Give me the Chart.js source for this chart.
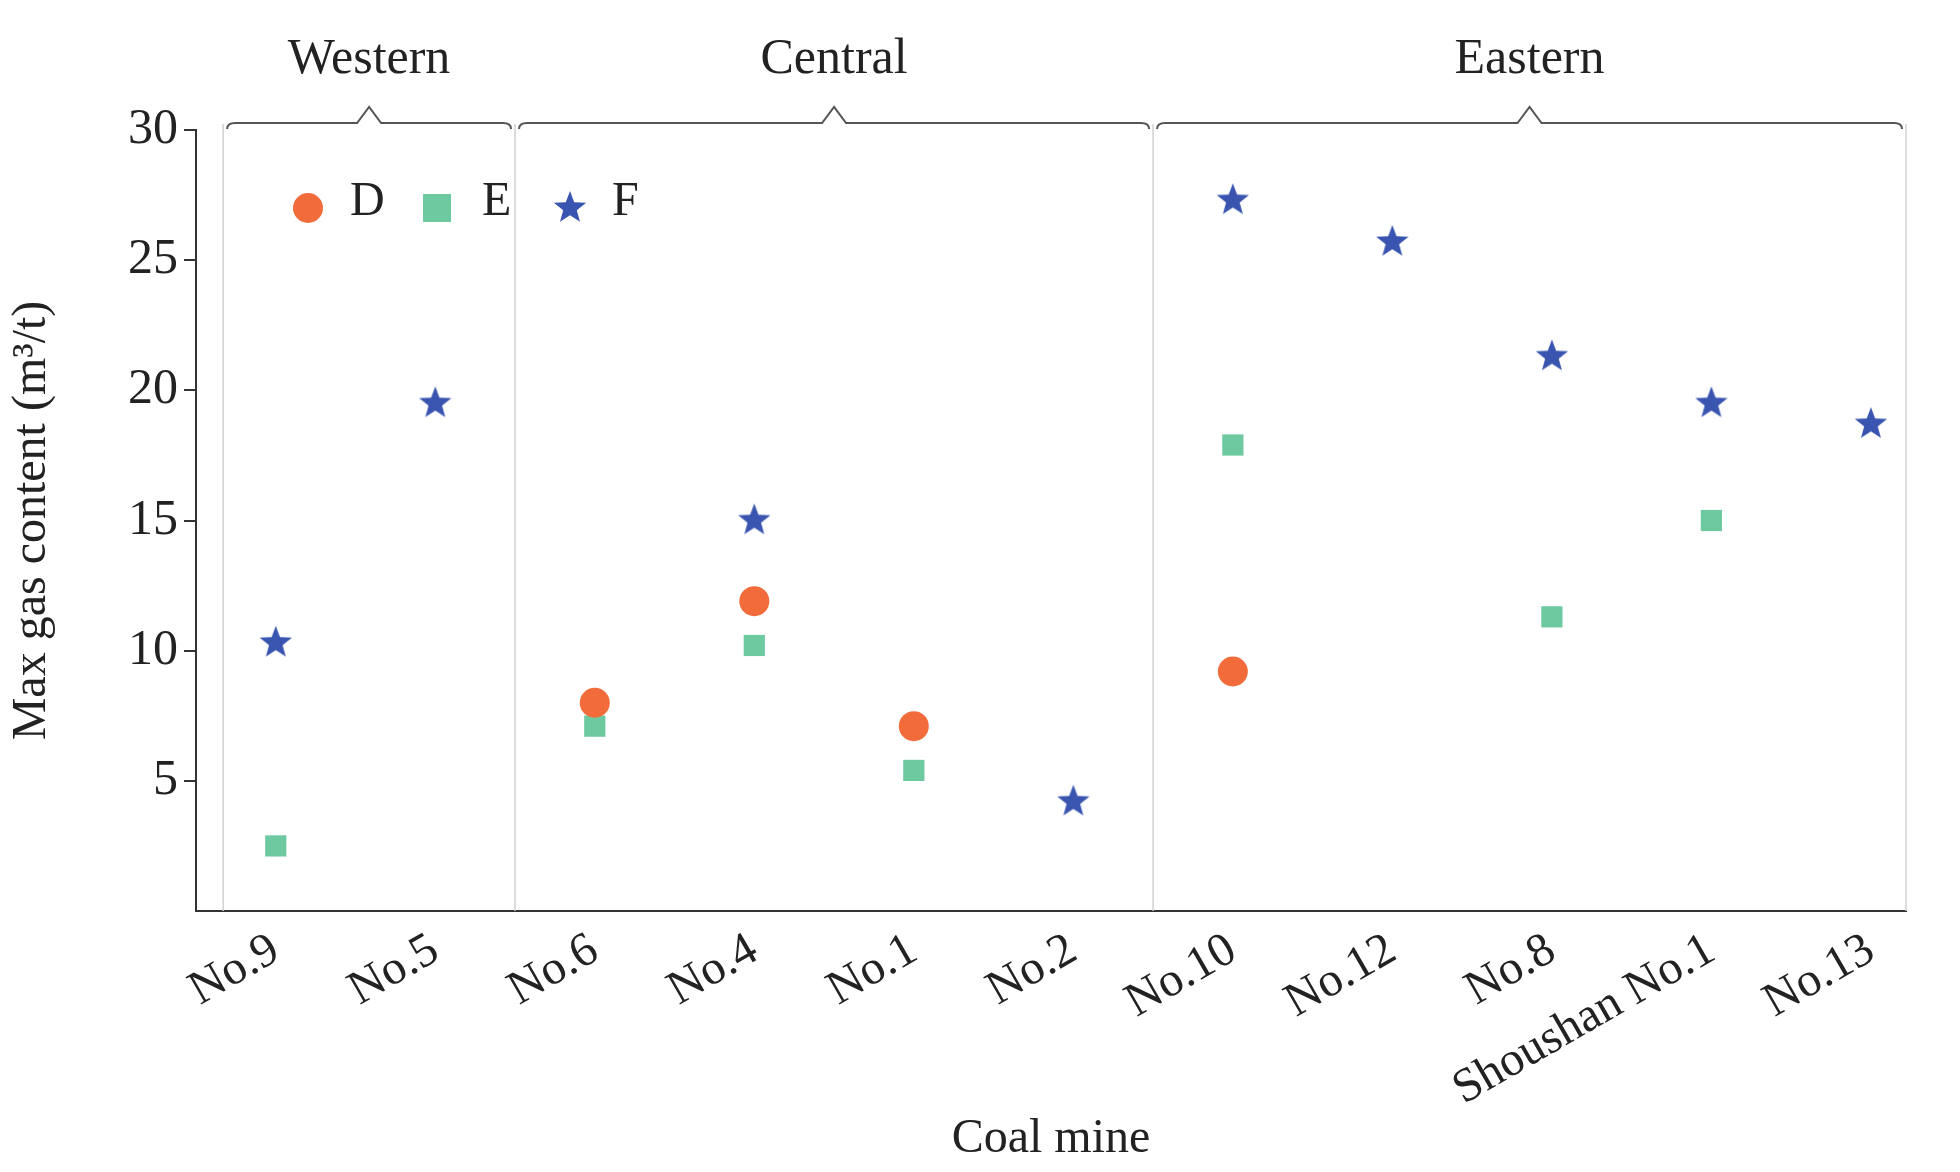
<!DOCTYPE html>
<html><head><meta charset="utf-8">
<script src="https://cdn.jsdelivr.net/npm/chart.js@4"></script>
<style>html,body{margin:0;background:#fff}#c{display:block}</style>
</head><body>
<canvas id="c" width="1960" height="1172" style="width:1960px;height:1172px"></canvas>
<script>
const mines = ['No.9','No.5','No.6','No.4','No.1','No.2','No.10','No.12','No.8','Shoushan No.1','No.13'];
const seriesD = [null, null, 8.0, 11.9, 7.1, null, 9.2, null, null, null, null];
const seriesE = [2.5, null, 7.1, 10.2, 5.4, null, 17.9, null, 11.3, 15.0, null];
const seriesF = [10.3, 19.5, null, 15.0, null, 4.2, 27.3, 25.7, 21.3, 19.5, 18.7];
const yTicks = [5, 10, 15, 20, 25, 30];
const regions = [['Western', -0.33, 1.5], ['Central', 1.5, 5.5], ['Eastern', 5.5, 10.22]];

const cD = '#f26b3a', cE = '#6dc9a0', cF = '#3a55b0';
const serif = '"Liberation Serif", "DejaVu Serif", serif';

function starImg(r, col) {
  const cv = document.createElement('canvas');
  cv.width = cv.height = r * 2 + 2;
  const g = cv.getContext('2d');
  g.fillStyle = col;
  g.beginPath();
  for (let i = 0; i < 10; i++) {
    const rr = i % 2 ? r * 0.42 : r;
    const a = -Math.PI / 2 + i * Math.PI / 5;
    g.lineTo(r + 1 + rr * Math.cos(a), r + 1 + rr * Math.sin(a));
  }
  g.closePath(); g.fill();
  return cv;
}
const star = starImg(17, cF);

function pts(arr) {
  return arr.map((v, i) => v == null ? null : {x: i, y: v}).filter(p => p);
}

const decor = {
  id: 'decor',
  beforeDatasetsDraw(chart) {
    const {ctx, scales: {x}, chartArea: a} = chart;
    ctx.save();
    ctx.strokeStyle = '#d0d0d0'; ctx.lineWidth = 1.5;
    [-0.33, 1.5, 5.5, 10.22].forEach(v => {
      const px = x.getPixelForValue(v);
      ctx.beginPath(); ctx.moveTo(px, 124); ctx.lineTo(px, a.bottom); ctx.stroke();
    });
    ctx.restore();
  },
  afterDraw(chart) {
    const {ctx, scales: {x}} = chart;
    ctx.save();
    ctx.strokeStyle = '#555'; ctx.lineWidth = 2;
    ctx.fillStyle = '#222';
    ctx.font = '50px ' + serif; ctx.textAlign = 'center'; ctx.textBaseline = 'middle';
    regions.forEach(([name, s, e]) => {
      const x0 = x.getPixelForValue(s) + 4, x1 = x.getPixelForValue(e) - 4, m = (x0 + x1) / 2;
      const yb = 123;
      ctx.beginPath();
      ctx.moveTo(x0, yb + 6); ctx.quadraticCurveTo(x0, yb, x0 + 8, yb);
      ctx.lineTo(m - 12, yb); ctx.lineTo(m, yb - 16); ctx.lineTo(m + 12, yb);
      ctx.lineTo(x1 - 8, yb); ctx.quadraticCurveTo(x1, yb, x1, yb + 6);
      ctx.stroke();
      ctx.fillText(name, m, 60);
    });
    // legend
    const ly = 208;
    ctx.textAlign = 'left'; ctx.font = '48px ' + serif;
    ctx.fillStyle = cD; ctx.beginPath(); ctx.arc(308, ly, 15, 0, Math.PI * 2); ctx.fill();
    ctx.fillStyle = '#222'; ctx.fillText('D', 350, ly - 6);
    ctx.fillStyle = cE; ctx.fillRect(423, ly - 14, 28, 28);
    ctx.fillStyle = '#222'; ctx.fillText('E', 482, ly - 6);
    ctx.drawImage(star, 552, ly - 18);
    ctx.fillStyle = '#222'; ctx.fillText('F', 612, ly - 6);
    ctx.restore();
  }
};

new Chart(document.getElementById('c'), {
  type: 'scatter',
  data: {
    datasets: [
      {label: 'D', data: pts(seriesD), backgroundColor: cD, borderWidth: 0, pointStyle: 'circle', pointRadius: 15},
      {label: 'E', data: pts(seriesE), backgroundColor: cE, borderWidth: 0, pointStyle: 'rect', pointRadius: 15},
      {label: 'F', data: pts(seriesF), pointStyle: star, pointRadius: 17}
    ]
  },
  options: {
    responsive: false, animation: false, devicePixelRatio: 1,
    layout: {padding: {top: 130, right: 54, left: 0, bottom: 0}},
    plugins: {legend: {display: false}, tooltip: {enabled: false}},
    scales: {
      x: {
        type: 'linear', min: -0.5, max: 10.22,
        afterBuildTicks: s => { s.ticks = mines.map((m, i) => ({value: i})); },
        afterFit: s => { s.height = 261; },
        grid: {display: false},
        border: {color: '#333', width: 2},
        ticks: {
          autoSkip: false, minRotation: 30, maxRotation: 30, color: '#222',
          font: {family: serif, size: 48},
          callback: v => mines[v]
        },
        title: {display: true, text: 'Coal mine', color: '#222', font: {family: serif, size: 48}, padding: {top: 0}}
      },
      y: {
        min: 0, max: 30,
        afterBuildTicks: s => { s.ticks = yTicks.map(v => ({value: v})); },
        afterFit: s => { s.width = 196; },
        grid: {drawOnChartArea: false, tickLength: 12, color: '#333', lineWidth: 2},
        border: {color: '#333', width: 2},
        ticks: {color: '#222', font: {family: serif, size: 50}, padding: 6},
        title: {display: true, text: 'Max gas content (m³/t)', color: '#222', font: {family: serif, size: 48}, padding: {bottom: 4}}
      }
    }
  },
  plugins: [decor]
});
</script>
</body></html>
